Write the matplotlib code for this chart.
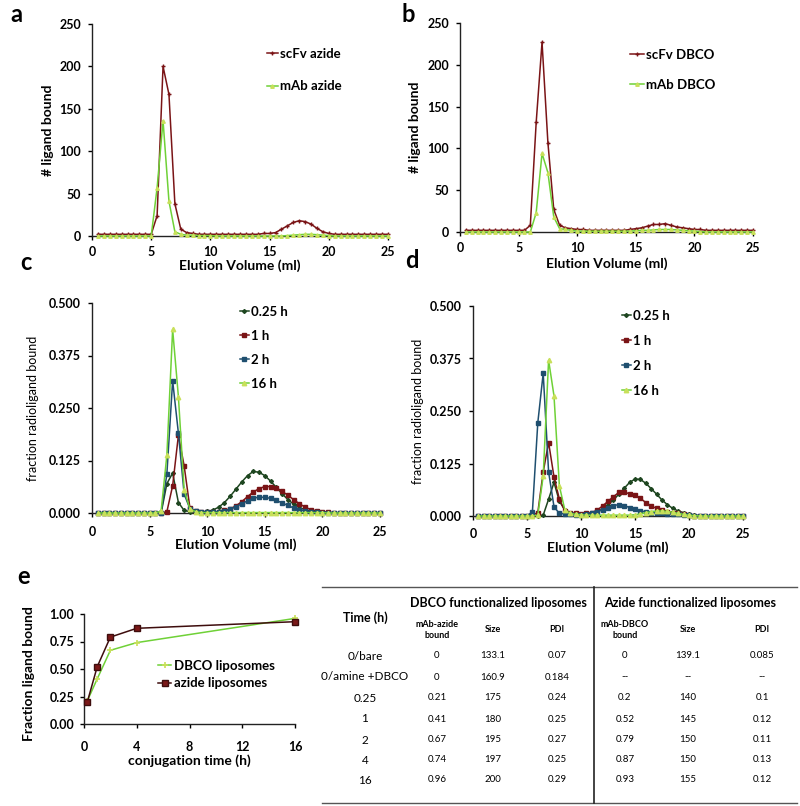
import numpy as np
import matplotlib
matplotlib.use('Agg')
from matplotlib import pyplot as plt
from matplotlib.lines import Line2D
from matplotlib.ticker import FormatStrFormatter

plt.rcParams['font.family'] = ['Lato', 'DejaVu Sans']

W, H = 800, 806

# elution volume grid (ml), one fraction every 0.5 ml
volume = np.arange(0.5, 25.01, 0.5)

# panel a: ligands bound per liposome, azide liposomes
scfv_azide = [2, 2, 2, 2, 2, 2, 2, 2, 2, 2,
              24, 200, 167, 38, 8, 4, 3, 2, 2, 2,
              2, 2, 2, 2, 2, 2, 2, 2, 3, 3,
              4, 8, 12, 16, 18, 17, 14, 9, 5, 3,
              2, 2, 2, 2, 2, 2, 2, 2, 2, 2]
mab_azide = [0, 0, 0, 0, 0, 0, 0, 0, 0, 0,
             57, 136, 41, 5, 2, 1, 1, 0.5, 0.5, 0.5,
             0, 0, 0, 0, 0, 0, 0, 0, 0, 0,
             0, 0, 0.5, 1, 1.5, 2, 2, 1.5, 1, 0.5,
             0, 0, 0, 0, 0, 0, 0, 0, 0, 0]

# panel b: DBCO liposomes
scfv_dbco = [2, 2, 2, 2, 2, 2, 2, 2, 2, 2,
             2, 8, 131, 227, 107, 27, 8, 5, 4, 3,
             3, 2, 2, 2, 2, 2, 2, 2, 3, 4,
             5, 7, 9, 9, 10, 8, 6, 5, 4, 3,
             3, 2, 2, 2, 2, 2, 2, 2, 2, 2]
mab_dbco = [0, 0, 0, 0, 0, 0, 0, 0, 0, 0,
            0, 0, 23, 94, 71, 18, 4, 3, 2, 1,
            1, 1, 1, 1, 1, 1, 1, 1, 1, 1.5,
            2, 2, 2.5, 3, 3, 3, 2.5, 2, 1.5, 1,
            0.5, 0, 0, 0, 0, 0, 0, 0, 0, 0]

# panel c: fraction radioligand bound, DBCO liposomes + mAb-azide
c_025h = [0, 0, 0, 0, 0, 0, 0, 0, 0, 0,
          0, 0, 0.07, 0.095, 0.025, 0.006, 0.003, 0.002, 0.002, 0.004,
          0.007, 0.014, 0.025, 0.04, 0.057, 0.074, 0.089, 0.099, 0.097, 0.089,
          0.076, 0.061, 0.046, 0.032, 0.021, 0.013, 0.008, 0.004, 0.002, 0.001,
          0, 0, 0, 0, 0, 0, 0, 0, 0, 0]
c_1h = [0, 0, 0, 0, 0, 0, 0, 0, 0, 0,
        0, 0, 0.003, 0.065, 0.185, 0.112, 0.012, 0.004, 0.002, 0.002,
        0.002, 0.003, 0.006, 0.01, 0.017, 0.027, 0.039, 0.05, 0.058, 0.063,
        0.063, 0.06, 0.052, 0.042, 0.032, 0.022, 0.014, 0.008, 0.005, 0.003,
        0.002, 0.001, 0, 0, 0, 0, 0, 0, 0, 0]
c_2h = [0, 0, 0, 0, 0, 0, 0, 0, 0, 0,
        0, 0, 0.093, 0.315, 0.19, 0.045, 0.01, 0.004, 0.002, 0.002,
        0.002, 0.003, 0.005, 0.009, 0.015, 0.022, 0.029, 0.035, 0.038, 0.037,
        0.035, 0.03, 0.024, 0.018, 0.012, 0.008, 0.005, 0.003, 0.002, 0.001,
        0, 0, 0, 0, 0, 0, 0, 0, 0, 0]
c_16h = [0, 0, 0, 0, 0, 0, 0, 0, 0, 0,
         0, 0.005, 0.138, 0.437, 0.277, 0.055, 0.01, 0.003, 0.001, 0.001,
         0.001, 0.001, 0.001, 0.001, 0.001, 0.001, 0.001, 0.001, 0.001, 0.001,
         0.001, 0.001, 0.001, 0.001, 0.001, 0.001, 0.001, 0.001, 0.001, 0.001,
         0, 0, 0, 0, 0, 0, 0, 0, 0, 0]

# panel d: fraction radioligand bound, azide liposomes + mAb-DBCO
d_025h = [0, 0, 0, 0, 0, 0, 0, 0, 0, 0,
          0, 0, 0.002, 0.04, 0.08, 0.035, 0.015, 0.008, 0.005, 0.004,
          0.005, 0.007, 0.01, 0.017, 0.027, 0.038, 0.052, 0.066, 0.08, 0.088,
          0.087, 0.078, 0.065, 0.052, 0.038, 0.027, 0.018, 0.012, 0.008, 0.004,
          0.002, 0.001, 0, 0, 0, 0, 0, 0, 0, 0]
d_1h = [0, 0, 0, 0, 0, 0, 0, 0, 0, 0,
        0.002, 0.008, 0.105, 0.175, 0.093, 0.04, 0.012, 0.008, 0.006, 0.005,
        0.006, 0.008, 0.014, 0.024, 0.035, 0.046, 0.056, 0.058, 0.052, 0.05,
        0.042, 0.032, 0.024, 0.018, 0.014, 0.01, 0.008, 0.006, 0.004, 0.002,
        0.001, 0, 0, 0, 0, 0, 0, 0, 0, 0]
d_2h = [0, 0, 0, 0, 0, 0, 0, 0, 0, 0,
        0.01, 0.222, 0.34, 0.105, 0.022, 0.006, 0.005, 0.004, 0.003, 0.003,
        0.004, 0.006, 0.01, 0.015, 0.02, 0.025, 0.027, 0.025, 0.02, 0.016,
        0.012, 0.01, 0.008, 0.007, 0.006, 0.005, 0.005, 0.004, 0.003, 0.002,
        0.001, 0, 0, 0, 0, 0, 0, 0, 0, 0]
d_16h = [0, 0, 0, 0, 0, 0, 0, 0, 0, 0,
         0, 0.002, 0.095, 0.371, 0.286, 0.071, 0.015, 0.006, 0.004, 0.003,
         0.002, 0.002, 0.002, 0.002, 0.002, 0.002, 0.002, 0.002, 0.002, 0.003,
         0.005, 0.008, 0.01, 0.012, 0.012, 0.011, 0.009, 0.006, 0.004, 0.002,
         0.001, 0, 0, 0, 0, 0, 0, 0, 0, 0]

# panel e: conjugation kinetics
conj_time = [0.25, 1, 2, 4, 16]
dbco_frac = [0.21, 0.41, 0.67, 0.74, 0.96]
azide_frac = [0.2, 0.52, 0.79, 0.87, 0.93]

# table
time_labels = ['0/bare', '0/amine +DBCO', '0.25', '1', '2', '4', '16']
dbco_bound = ['0', '0', '0.21', '0.41', '0.67', '0.74', '0.96']
dbco_size = ['133.1', '160.9', '175', '180', '195', '197', '200']
dbco_pdi = ['0.07', '0.184', '0.24', '0.25', '0.27', '0.25', '0.29']
azide_bound = ['0', '--', '0.2', '0.52', '0.79', '0.87', '0.93']
azide_size = ['139.1', '--', '140', '145', '150', '150', '155']
azide_pdi = ['0.085', '--', '0.1', '0.12', '0.11', '0.13', '0.12']

RED = '#7a1416'
GREEN = '#6fd137'
GREEN_MK = '#c8e05a'
BLUE = '#1f4f6f'
DKGREEN = '#1e4620'


def fx(x):
    return x / W


def fy(y):
    return 1 - y / H


def makeAxes(left, top, right, bottom):
    return fig.add_axes([fx(left), fy(bottom), (right - left) / W, (bottom - top) / H])


def styleAxes(ax, xpad=4.5, ypad=5):
    for side in ['top', 'right']:
        ax.spines[side].set_visible(False)
    for side in ['left', 'bottom']:
        ax.spines[side].set_color('#222222')
        ax.spines[side].set_linewidth(1.0)
    ax.tick_params(axis='x', direction='out', length=3, width=1, pad=xpad, labelsize=9)
    ax.tick_params(axis='y', direction='out', length=3, width=1, pad=ypad, labelsize=9)
    for lab in ax.get_xticklabels() + ax.get_yticklabels():
        lab.set_fontweight('bold')


def setLabels(ax, xlabel, xl_y, ylabel, yl_x, yl_y=0.5, ybold=True):
    ax.set_xlabel(xlabel, fontsize=10, fontweight='bold')
    ax.xaxis.set_label_coords(0.5, xl_y)
    ax.xaxis.label.set_verticalalignment('center')
    ax.set_ylabel(ylabel, fontsize=10 if ybold else 9,
                  fontweight='bold' if ybold else 'normal')
    ax.yaxis.set_label_coords(yl_x, yl_y)
    ax.yaxis.label.set_verticalalignment('center')


def placeLegend(ax, left, top, hlen, spacing, fs=9.5):
    ax.legend(loc='upper left', bbox_to_anchor=(fx(left), fy(top)),
              bbox_transform=fig.transFigure, frameon=False, borderpad=0,
              borderaxespad=0, handlelength=hlen, handletextpad=0.2,
              labelspacing=spacing, prop={'weight': 'bold', 'size': fs})


fig = plt.figure(figsize=(W / 100, H / 100), dpi=100)

# ---- panel a
ax_a = makeAxes(92, 24, 388, 236)
ax_a.plot(volume, scfv_azide, color=RED, lw=1.1, marker='+', ms=3.5,
          mew=1, label='scFv azide', clip_on=False, zorder=3)
ax_a.plot(volume, mab_azide, color=GREEN, lw=1.1, marker='^', ms=2.5,
          mfc=GREEN_MK, mec=GREEN_MK, label='mAb azide', clip_on=False, zorder=3)
ax_a.set_xlim(0, 25)
ax_a.set_ylim(0, 250)
ax_a.set_xticks([0, 5, 10, 15, 20, 25])
ax_a.set_yticks([0, 50, 100, 150, 200, 250])
styleAxes(ax_a)
setLabels(ax_a, 'Elution Volume (ml)', -0.142, '# ligand bound', -0.149)
placeLegend(ax_a, 267, 48, 0.8, 1.55)

# ---- panel b
ax_b = makeAxes(460, 23, 753, 232)
ax_b.plot(volume, scfv_dbco, color=RED, lw=1.1, marker='+', ms=3.5,
          mew=1, label='scFv DBCO', clip_on=False, zorder=3)
ax_b.plot(volume, mab_dbco, color=GREEN, lw=1.1, marker='^', ms=2.5,
          mfc=GREEN_MK, mec=GREEN_MK, label='mAb DBCO', clip_on=False, zorder=3)
ax_b.set_xlim(0, 25)
ax_b.set_ylim(0, 250)
ax_b.set_xticks([0, 5, 10, 15, 20, 25])
ax_b.set_yticks([0, 50, 100, 150, 200, 250])
styleAxes(ax_b)
setLabels(ax_b, 'Elution Volume (ml)', -0.153, '# ligand bound', -0.154)
placeLegend(ax_b, 630, 49, 1.05, 1.35)

# ---- panels c and d
series_cd = [
    ('0.25 h', DKGREEN, 'D', 2.0, DKGREEN),
    ('1 h', RED, 's', 3.2, RED),
    ('2 h', BLUE, 's', 3.2, BLUE),
    ('16 h', GREEN, '^', 3.2, GREEN_MK),
]

ax_c = makeAxes(92, 303, 380, 513)
for (lab, col, mk, ms, mfc), vals in zip(series_cd, [c_025h, c_1h, c_2h, c_16h]):
    ax_c.plot(volume, vals, color=col, lw=1.1, marker=mk, ms=ms, mfc=mfc,
              mec=mfc, label=lab, clip_on=False, zorder=3)
ax_d = makeAxes(473, 306, 743, 516)
for (lab, col, mk, ms, mfc), vals in zip(series_cd, [d_025h, d_1h, d_2h, d_16h]):
    ax_d.plot(volume, vals, color=col, lw=1.1, marker=mk, ms=ms, mfc=mfc,
              mec=mfc, label=lab, clip_on=False, zorder=3)

for ax in [ax_c, ax_d]:
    ax.set_xlim(0, 25)
    ax.set_ylim(0, 0.5)
    ax.set_xticks([0, 5, 10, 15, 20, 25])
    ax.set_yticks([0, 0.125, 0.25, 0.375, 0.5])
    ax.yaxis.set_major_formatter(FormatStrFormatter('%.3f'))
    styleAxes(ax, xpad=6)

setLabels(ax_c, 'Elution Volume (ml)', -0.152, 'fraction radioligand bound', -0.205, ybold=False)
setLabels(ax_d, 'Elution Volume (ml)', -0.152, 'fraction radioligand bound', -0.204, ybold=False)
placeLegend(ax_c, 240, 306, 0.65, 0.9)
placeLegend(ax_d, 622, 310, 0.65, 0.98)

# ---- panel e
ax_e = makeAxes(84, 614, 295, 724)
ax_e.plot(conj_time, dbco_frac, color=GREEN, lw=1.1, marker='+', ms=4, mew=1.2,
          mec=GREEN_MK, label='DBCO liposomes', clip_on=False, zorder=3)
ax_e.plot(conj_time, azide_frac, color='#3e0d0d', lw=1.1, marker='s', ms=4,
          mfc='#7a1818', mec='#3e0d0d', label='azide liposomes', clip_on=False, zorder=3)
ax_e.set_xlim(0, 16)
ax_e.set_ylim(0, 1)
ax_e.set_xticks([0, 4, 8, 12, 16])
ax_e.set_yticks([0, 0.25, 0.5, 0.75, 1.0])
ax_e.yaxis.set_major_formatter(FormatStrFormatter('%.2f'))
styleAxes(ax_e, xpad=9, ypad=4)
setLabels(ax_e, 'conjugation time (h)', -0.336, 'Fraction ligand bound', -0.26, yl_y=0.46)
placeLegend(ax_e, 158, 660, 1.0, 0.4)

# panel letters
for letter, x, y in [('a', 10, 14), ('b', 402, 14), ('c', 20, 262),
                     ('d', 405, 260), ('e', 17, 577)]:
    fig.text(fx(x), fy(y), letter, fontsize=17, fontweight='bold',
             ha='left', va='center')

# ---- table
line_kw = dict(color='#555555', lw=1.0, transform=fig.transFigure)
fig.add_artist(Line2D([fx(322), fx(797)], [fy(587), fy(587)], **line_kw))
fig.add_artist(Line2D([fx(322), fx(797)], [fy(803), fy(803)], **line_kw))
fig.add_artist(Line2D([fx(594), fx(594)], [fy(587), fy(803)], color='#222222',
                      lw=1.2, transform=fig.transFigure))

fig.text(fx(498), fy(603), 'DBCO functionalized liposomes', fontsize=9,
         fontweight='bold', ha='center', va='center')
fig.text(fx(690), fy(603), 'Azide functionalized liposomes', fontsize=9,
         fontweight='bold', ha='center', va='center')
fig.text(fx(365), fy(618), 'Time (h)', fontsize=9, fontweight='bold',
         ha='center', va='center')

col_x = [437, 493, 557, 625, 688, 762]
sub_headers = ['mAb-azide\nbound', 'Size', 'PDI', 'mAb-DBCO\nbound', 'Size', 'PDI']
for x, txt in zip(col_x, sub_headers):
    fig.text(fx(x), fy(630), txt, fontsize=6.5, fontweight='bold',
             ha='center', va='center', linespacing=1.3)

row_y = [656, 677, 698, 719, 740, 760, 780]
columns = [dbco_bound, dbco_size, dbco_pdi, azide_bound, azide_size, azide_pdi]
for i, y in enumerate(row_y):
    fig.text(fx(365), fy(y), time_labels[i], fontsize=8.5, ha='center', va='center')
    for x, col in zip(col_x, columns):
        fig.text(fx(x), fy(y), col[i], fontsize=7, ha='center', va='center')

fig.savefig('out.png', dpi=100)
